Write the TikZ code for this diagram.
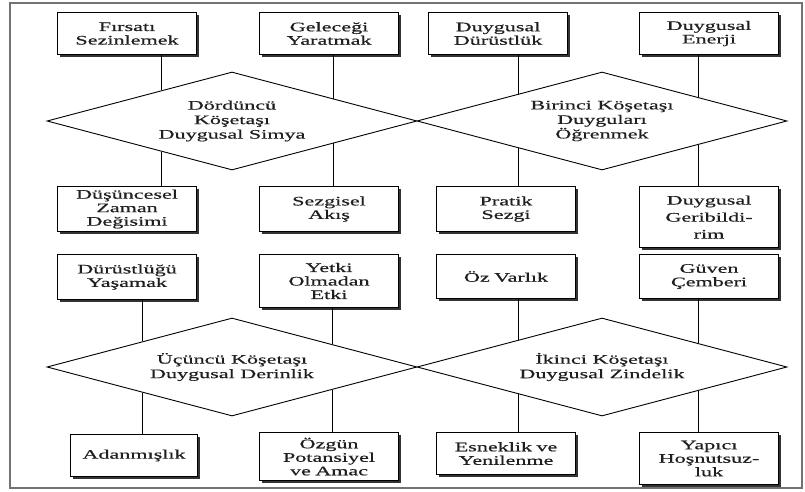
\documentclass[tikz,border=0pt]{standalone}
\usepackage{fontspec}
\setmainfont{Liberation Serif}[FakeStretch=1.7,FakeBold=0.5]
\usepackage{tikz}
\usetikzlibrary{shapes.geometric}
\usetikzlibrary{shadows}
\usetikzlibrary{calc}
\definecolor{yazi}{gray}{0.12}
\tikzset{box/.style={draw, fill=white, anchor=north west, align=center,
      text width=131pt, inner xsep=4pt, inner ysep=2pt, minimum height=42pt,
      line width=1.1pt, text=yazi, font=\fontsize{13}{13.5}\selectfont,
      drop shadow={shadow xshift=2.5pt,shadow yshift=-2.5pt,fill=black!80,opacity=1}}}
\tikzset{kose/.style={diamond, draw, shape aspect=3.8, minimum width=370pt,
      minimum height=98pt, inner sep=0pt, align=center, line width=0.9pt,
      text=yazi, font=\fontsize{13}{14.5}\selectfont}}
\tikzset{bag/.style={line width=1.1pt}}

\begin{document}
\begin{tikzpicture}[x=1pt,y=-1pt]
		\useasboundingbox (0,0) rectangle (805,492);
		\draw[line width=1.4pt, black!55] (10,3) rectangle (802,488);
		\node[kose] (d4) at (232,121) {Dördüncü\\Köşetaşı\\Duygusal Simya};
		\node[kose] (d1) at (602,121) {Birinci Köşetaşı\\Duyguları\\Öğrenmek};
		\node[kose] (d3) at (232,367) {Üçüncü Köşetaşı\\Duygusal Derinlik};
		\node[kose] (d2) at (602,367) {İkinci Köşetaşı\\Duygusal Zindelik};
		\node[box] (firsat) at (57,12) {Fırsatı\\Sezinlemek};
		\node[box] (gelecek) at (259,12) {Geleceği\\Yaratmak};
		\node[box] (durustluk) at (428,12) {Duygusal\\Dürüstlük};
		\node[box] (enerji) at (639,12) {Duygusal\\Enerji};
		\node[box, minimum height=45pt] (zaman) at (57,186) {Düşüncesel\\Zaman\\Değisimi};
		\node[box, minimum height=45pt] (akis) at (259,186) {Sezgisel\\Akış};
		\node[box, minimum height=45pt] (pratik) at (436,186) {Pratik\\Sezgi};
		\node[box, minimum height=61pt, font=\fontsize{13}{17}\selectfont] (geri) at (639,186) {Duygusal\\Geribildi-\\rim};
		\node[box, minimum height=45pt] (yasamak) at (57,254) {Dürüstlüğü\\Yaşamak};
		\node[box, minimum height=53pt] (yetki) at (259,254) {Yetki\\Olmadan\\Etki};
		\node[box, minimum height=44pt] (ozvarlik) at (436,254) {Öz Varlık};
		\node[box, minimum height=44pt] (guven) at (639,254) {Güven\\Çemberi};
		\node[box, text width=119pt] (adanmis) at (70,434) {Adanmışlık};
		\node[box, minimum height=48pt] (ozgun) at (259,432) {Özgün\\Potansiyel\\ve Amac};
		\node[box] (esneklik) at (436,432) {Esneklik ve\\Yenilenme};
		\node[box, minimum height=52pt] (yapici) at (639,432) {Yapıcı\\Hoşnutsuz-\\luk};
		\coordinate (d4nw) at ($(d4.west)!.622!(d4.north)$);
		\coordinate (d4ne) at ($(d4.north)!.546!(d4.east)$);
		\coordinate (d4sw) at ($(d4.west)!.622!(d4.south)$);
		\coordinate (d4se) at ($(d4.south)!.546!(d4.east)$);
		\coordinate (d1nw) at ($(d1.west)!.551!(d1.north)$);
		\coordinate (d1ne) at ($(d1.north)!.519!(d1.east)$);
		\coordinate (d1sw) at ($(d1.west)!.551!(d1.south)$);
		\coordinate (d1se) at ($(d1.south)!.519!(d1.east)$);
		\coordinate (d3nw) at ($(d3.west)!.519!(d3.north)$);
		\coordinate (d3ne) at ($(d3.north)!.541!(d3.east)$);
		\coordinate (d3sw) at ($(d3.west)!.519!(d3.south)$);
		\coordinate (d3se) at ($(d3.south)!.541!(d3.east)$);
		\coordinate (d2nw) at ($(d2.west)!.551!(d2.north)$);
		\coordinate (d2ne) at ($(d2.north)!.519!(d2.east)$);
		\coordinate (d2sw) at ($(d2.west)!.551!(d2.south)$);
		\coordinate (d2se) at ($(d2.south)!.519!(d2.east)$);
		\draw[bag] (firsat.south -| d4nw) -- (d4nw);
		\draw[bag] (gelecek.south -| d4ne) -- (d4ne);
		\draw[bag] (d4sw) -- (zaman.north -| d4sw);
		\draw[bag] (d4se) -- (akis.north -| d4se);
		\draw[bag] (durustluk.south -| d1nw) -- (d1nw);
		\draw[bag] (enerji.south -| d1ne) -- (d1ne);
		\draw[bag] (d1sw) -- (pratik.north -| d1sw);
		\draw[bag] (d1se) -- (geri.north -| d1se);
		\draw[bag] (yasamak.south -| d3nw) -- (d3nw);
		\draw[bag] (yetki.south -| d3ne) -- (d3ne);
		\draw[bag] (d3sw) -- (adanmis.north -| d3sw);
		\draw[bag] (d3se) -- (ozgun.north -| d3se);
		\draw[bag] (ozvarlik.south -| d2nw) -- (d2nw);
		\draw[bag] (guven.south -| d2ne) -- (d2ne);
		\draw[bag] (d2sw) -- (esneklik.north -| d2sw);
		\draw[bag] (d2se) -- (yapici.north -| d2se);
\end{tikzpicture}
\end{document}
